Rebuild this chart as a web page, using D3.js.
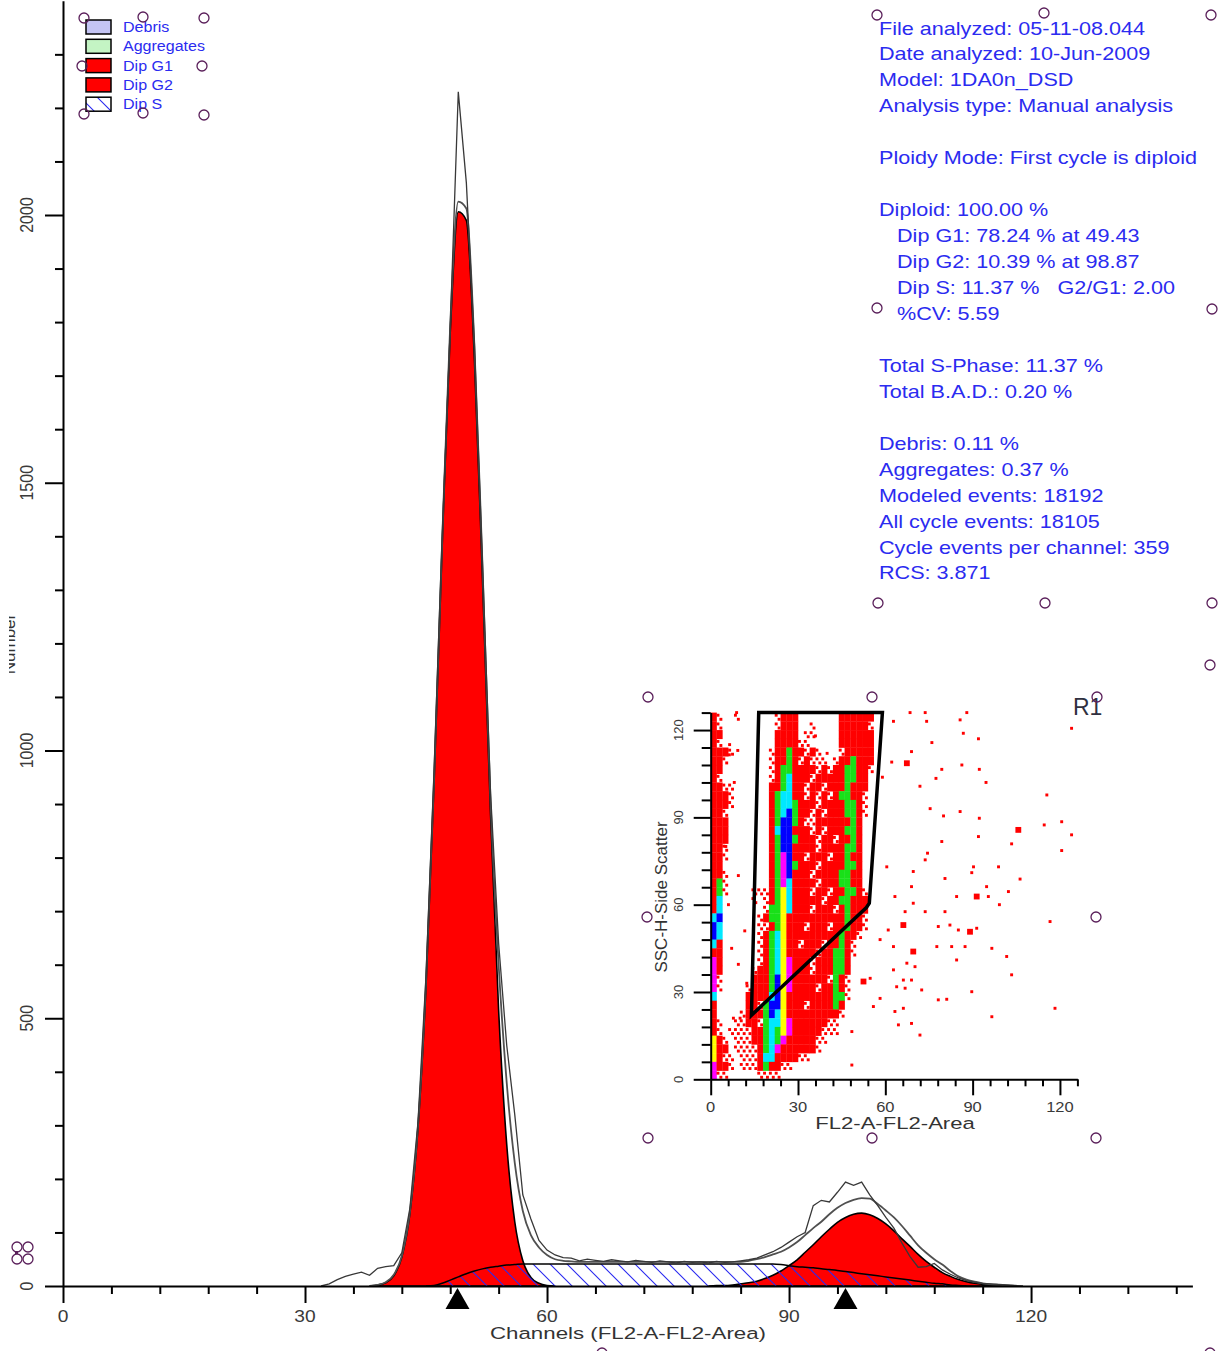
<!DOCTYPE html>
<html><head><meta charset="utf-8">
<script src="https://cdn.jsdelivr.net/npm/d3@7"></script>
<style>
html,body{margin:0;padding:0;background:#fff;}
svg{display:block;font-family:"Liberation Sans",Arial,Helvetica,sans-serif;}
text{white-space:pre;}
</style>
</head><body>
<svg id="chart" width="1219" height="1351"></svg>
<script>
// ---------- DNA histogram (counts per channel) ----------
const rawStart = 32;
const rawCounts = [0,4,12,18,22,26,20,33,36,38,
  62,145,305,580,965,1400,1790,2230,2060,1760,
  1350,920,640,450,320,170,125,85,67,58,
  53,52,47,50,48,46,49,47,45,48,
  46,44,47,45,43,46,44,45,43,46,
  44,45,47,49,52,58,64,72,82,92,
  100,150,160,157,175,194,188,194,170,150,
  128,108,80,55,35,36,42,30,22,15,
  10,7,5,4,3,2,1,0];

const fitStart = 38;
const fitCounts = [0,2,7,21,56,138,298,568,948,1390,
  1795,2025,2012,1755,1345,905,600,380,230,140,
  95,72,58,50,47,46,45,45,45,45,
  45,45,45,45,45,45,45,45,45,45,
  45,45,45,45,45,45,45,47,50,54,
  59,64,72,82,95,108,120,134,146,155,
  161,164,163,153,141,128,112,94,76,62,
  50,40,28,18,12,8,5,3,2,1,0];

const g1Start = 38;
const g1Counts = [0,2,6,19,54,135,294,560,940,1380,
  1780,2006,1990,1730,1320,880,515,265,120,47,
  16,5,1,0];

const g2Start = 80;
const g2Counts = [0,1,1,2,4,6,9,14,20,28,
  38,49,63,77,92,106,119,128,134,136,
  133,126,116,103,88,74,59,46,35,25,
  18,12,8,5,3,2,1,0];

const sStart = 45;
const sCounts = [0,1,5,11,17,23,28,32,35,37,
  39,40,41,41,41,41,41,41,41,41,
  41,41,41,41,41,41,41,41,41,41,
  41,41,41,41,41,41,41,41,41,41,
  41,41,41,41,40,38,36,35,34,32,
  31,29,27,25,23,21,19,17,15,13,
  11,9,7,5,4,2,1,0];

const peakMarkers = [48.9, 97.0];

const xTickValues = d3.range(0, 139, 6);
const xLabelValues = [0, 30, 60, 90, 120];
const yTickValues = d3.range(0, 2301, 100);
const yLabelValues = [0, 500, 1000, 1500, 2000];

const legendLabels = ["Debris", "Aggregates", "Dip G1", "Dip G2", "Dip S"];

const reportLines = [
  "File analyzed: 05-11-08.044",
  "Date analyzed: 10-Jun-2009",
  "Model: 1DA0n_DSD",
  "Analysis type: Manual analysis",
  "",
  "Ploidy Mode: First cycle is diploid",
  "",
  "Diploid: 100.00 %",
  "   Dip G1: 78.24 % at 49.43",
  "   Dip G2: 10.39 % at 98.87",
  "   Dip S: 11.37 %   G2/G1: 2.00",
  "   %CV: 5.59",
  "",
  "Total S-Phase: 11.37 %",
  "Total B.A.D.: 0.20 %",
  "",
  "Debris: 0.11 %",
  "Aggregates: 0.37 %",
  "Modeled events: 18192",
  "All cycle events: 18105",
  "Cycle events per channel: 359",
  "RCS: 3.871"
];

// ---------- SSC vs FL2 dot plot (density cells, 2 x 3 units each, top row first) ----------
const densityRows = [
  "rh..h......hrrr.......rrrrrr.",
  "rh.........hrrr..h....rrrrrh.",
  "rr.........rrrr.hh....rrrrrr.",
  "rh.........rrrrhh.....rrrrrr.",
  "rrrh......hrrgrrhrh...hrrrrr.",
  "rrh.......hrrgrhrhhh.hrrgrrr.",
  "rr........hrggrrrrhrhrrggrrh.",
  "rh........hrgcrrrhrrrrrggrr..",
  "rrhh......rrgcrrhrrhrrrgrrr..",
  "rrrh......rgccrrhrhrhrggrrh..",
  "rrrh......rgccgrrrhrrrrggrh..",
  "rrh.......rgcbgrrhrhrrrggrh..",
  "rrr.......rgbbgrhhrrrrrrgr...",
  "rrr.......rcbbrrrhrhrrrggr...",
  "rrr.......rgbbgrrrhrrhrrgr...",
  "rrh.......rgbbrrrrhrrrrggr...",
  "rrh.......rgmbrrhrrrhrrgrr...",
  "rr........rgmbgrrrhrrrrggr...",
  "rrh.......rgmbrrrhrrrrggrr...",
  "rgh.......rgmcrrrrhrrrggrr...",
  "rgh....hhhrgycrrrhrrhrrggrh..",
  "rc.....h.hrgycrrrrrhrrggrrr..",
  "rc.......hggycrrrhrrrhrgrrr..",
  "cb......hrggyrrrrrrrrrrgrrh..",
  "bc......hhrgyrrrhrrrhrrgrrh..",
  "bc......hrgcyrrrrrrrrrgrrh...",
  "cr......hrgcyrrhrrrhrrgrh....",
  "rr......hrgcyrrrrrhrrggrh....",
  "mr......hrgcymrrrhrrrggr.....",
  "mr.....hrrgcymrrrhrrrggr.....",
  "mh.....rrrgbymrrrrrrhgrh.....",
  "mh....hrrrgbymrrrrhrrgrh.....",
  "c.....rrrrcbyrrrrrrrrggh.....",
  "r.....rrhgbbyrrrhrrrrgr......",
  "r....hrrrgbcyrrrrrrrrrh......",
  "rh..hhrrhgccymrrrrrrhh.......",
  "rh.hhhhrrgcgymrrrrrhhh.......",
  "yrh.hhhrrgcgmrrrrrhh.........",
  "yrr.hhhhrgcmrrrrrrh..........",
  "yrhh.hhhrccrrrrhh............",
  "mrrh.hhhrgrrhh...............",
  "mhh.....hhhh................."
];

// isolated events outside the dense populations [FL2-A, SSC-H]
const sparseEvents = [
  [8.9,126],[68.5,126],[73.7,126],[88,126],[62.8,123],[74.2,123],[85.7,123.5],[124,120.6],
  [86.8,118.9],[92,117],[76,115.7],[69,112.6],[62.2,109],[86.3,108],[92.3,106.5],[79.4,106.5],
  [59,103.8],[77.4,103.4],[94.6,102],[71.9,100.7],[115.5,97.7],[75.4,93],[80,90.5],[85.7,92],
  [92.3,89.7],[114.6,87.4],[120.6,88.5],[92,83.4],[124,84],[103.4,80.9],[79.4,81.7],[74.5,77.7],
  [120.6,78.6],[60.5,73],[90.3,73],[98.9,73],[106.3,68.8],[69.6,71.4],[80.5,69],[89.7,71],
  [73.7,75.4],[94.8,66.2],[102.3,64.5],[84.5,62.8],[95.4,62.8],[99.2,60],[69,66.2],[63.3,62.8],
  [69.6,60.5],[73.7,57.6],[80.5,57.6],[66.8,57.6],[61,51.3],[78.2,52.5],[82.2,53],[85.1,51.3],
  [91.4,51.9],[116.6,54.2],[58.2,48],[62.8,45.6],[77.7,45.6],[82.8,45.6],[87.4,45.6],[96.6,45],
  [67.4,39.9],[70.2,38.7],[84.5,41],[101.7,42.2],[62.8,37.6],[54.8,34.7],[66.2,34.1],[69,34.1],
  [103.4,35.9],[63.9,31.8],[66.8,31.3],[72.5,30.7],[89.7,30.1],[58.2,27.8],[78.2,27.3],[81.1,27.5],
  [55.9,25],[66.2,24.4],[63.3,23.3],[118.3,24.4],[96.6,21.5],[64.5,18.7],[69,19.2],[48.5,16.4],
  [71.9,15.2],[48.5,4.9],[6.5,115],[9.3,113],[6.4,111.5],[8.1,102],[9.5,70],[9.5,39.5],
  [7.8,21],[10.1,21],[11.7,51],[13.5,20.7],[5.2,80],[6.1,60],[7.2,45],[12.4,33],[36,118],[40,112]
];
const largeEvents = [[67.4,108.6],[105.7,85.7],[91.4,62.8],[66.2,53],[89.1,50.7],[69.6,43.9],[52.5,33.6]];

const gateR1 = [[16.5,126],[59,126],[54.5,60.5],[53.5,59],[14,22]];

const inTickValues = d3.range(0, 127, 6);
const inLabelValues = [0, 30, 60, 90, 120];

// ---------- styles ----------
const BLUE_TEXT = "#2b2bf0";
const AXIS_TEXT = "#3a3a3a";
const cellColor = {r:"#ff0000", h:"#ff0000", g:"#19e019", c:"#00e8ff", b:"#0000ff", m:"#ff00ff", y:"#ffff00"};
const legendFill = ["#c4c4f4", "#c4f4c4", "#ff0000", "#ff0000", "url(#hatch)"];

const svg = d3.select("#chart");
svg.append("rect").attr("width", 1219).attr("height", 1351).attr("fill", "#fff");

const defs = svg.append("defs");
const pat = defs.append("pattern").attr("id", "hatch")
  .attr("patternUnits", "userSpaceOnUse").attr("width", 17).attr("height", 17);
pat.append("path").attr("d", "M0,0L17,17M-4,13L4,21M13,-4L21,4")
  .attr("stroke", "#2a2af0").attr("stroke-width", 1.1).attr("fill", "none");
defs.append("clipPath").attr("id", "ylabClip")
  .append("rect").attr("x", 9).attr("y", 0).attr("width", 40).attr("height", 1351);

// ---------- main histogram ----------
const x = d3.scaleLinear().domain([0, 140]).range([63, 1192.4]);
const y = d3.scaleLinear().domain([0, 2400]).range([1286, 0.8]);

const pts = (start, arr) => arr.map((v, i) => [start + i, v]);
const areaGen = d3.area().x(d => x(d[0])).y0(y(0)).y1(d => y(d[1])).curve(d3.curveMonotoneX);
const lineGen = d3.line().x(d => x(d[0])).y(d => y(d[1])).curve(d3.curveMonotoneX);
const rawGen = d3.line().x(d => x(d[0])).y(d => y(d[1]));

const plot = svg.append("g");
plot.append("path").attr("d", areaGen(pts(g1Start, g1Counts)))
  .attr("fill", "#ff0000").attr("stroke", "#000").attr("stroke-width", 1.6);
plot.append("path").attr("d", areaGen(pts(g2Start, g2Counts)))
  .attr("fill", "#ff0000").attr("stroke", "#000").attr("stroke-width", 1.6);
plot.append("path").attr("d", areaGen(pts(sStart, sCounts)))
  .attr("fill", "url(#hatch)").attr("stroke", "none");
plot.append("path").attr("d", lineGen(pts(sStart, sCounts)))
  .attr("fill", "none").attr("stroke", "#000").attr("stroke-width", 1.5);
plot.append("path").attr("d", lineGen(pts(fitStart, fitCounts)))
  .attr("fill", "none").attr("stroke", "#505050").attr("stroke-width", 1.8);
plot.append("path").attr("d", rawGen(pts(rawStart, rawCounts)))
  .attr("fill", "none").attr("stroke", "#383838").attr("stroke-width", 1.3);

// axes
const xAxis = svg.append("g").attr("transform", `translate(0,${y(0)})`)
  .call(d3.axisBottom(x).tickValues(xTickValues).tickSize(8).tickSizeOuter(0).tickFormat(""));
xAxis.selectAll(".tick line").attr("y2", d => d % 30 === 0 ? 17 : 8);
const yAxis = svg.append("g").attr("transform", `translate(${x(0)},0)`)
  .call(d3.axisLeft(y).tickValues(yTickValues).tickSize(8).tickSizeOuter(0).tickFormat(""));
yAxis.selectAll(".tick line").attr("x2", d => d % 500 === 0 ? -18 : -8);
svg.selectAll(".domain, .tick line").attr("stroke", "#000").attr("stroke-width", 2);

svg.append("g").selectAll("text").data(xLabelValues).join("text")
  .attr("transform", d => `translate(${x(d)},1322) scale(1.2,1)`)
  .attr("text-anchor", "middle").attr("font-size", 16).attr("fill", AXIS_TEXT).text(d => d);
svg.append("g").selectAll("text").data(yLabelValues).join("text")
  .attr("transform", d => `translate(33,${y(d)}) scale(1.15,1) rotate(-90)`)
  .attr("text-anchor", "middle").attr("font-size", 16).attr("fill", AXIS_TEXT).text(d => d);
svg.append("text").attr("transform", "translate(628,1339) scale(1.35,1)")
  .attr("text-anchor", "middle").attr("font-size", 16.5).attr("fill", "#333")
  .text("Channels (FL2-A-FL2-Area)");
svg.append("g").attr("clip-path", "url(#ylabClip)").append("text")
  .attr("transform", "translate(15,644) rotate(-90)")
  .attr("text-anchor", "middle").attr("font-size", 17).attr("fill", "#333").text("Number");

// peak position markers
svg.append("g").selectAll("path").data(peakMarkers).join("path")
  .attr("d", d => `M${x(d)},1288L${x(d) + 12},1309L${x(d) - 12},1309Z`).attr("fill", "#000");

// legend
const legend = svg.append("g");
legendLabels.forEach((lab, i) => {
  const yy = 20 + i * 19.3;
  legend.append("rect").attr("x", 86).attr("y", yy).attr("width", 25).attr("height", 14)
    .attr("fill", legendFill[i]).attr("stroke", "#000").attr("stroke-width", 1.5);
  legend.append("text").attr("transform", `translate(123,${yy + 12}) scale(1.07,1)`)
    .attr("font-size", 15).attr("fill", BLUE_TEXT).text(lab);
});

// report text
const report = svg.append("g");
reportLines.forEach((ln, i) => {
  if (!ln) return;
  const indent = ln.startsWith("   ");
  report.append("text")
    .attr("transform", `translate(${indent ? 897 : 879},${34.5 + i * 25.95}) scale(1.2,1)`)
    .attr("font-size", 18).attr("fill", BLUE_TEXT).text(ln.trim());
});

// ---------- inset dot plot ----------
const xi = d3.scaleLinear().domain([0, 126]).range([710.7, 1077.4]);
const yi = d3.scaleLinear().domain([0, 126]).range([1079.3, 712.6]);
const inset = svg.append("g");
const cells = [];
densityRows.forEach((row, r) => {
  [...row].forEach((ch, c) => { if (ch !== ".") cells.push({c, r, ch}); });
});
const cw = 2, chh = 3;
inset.append("g").selectAll("rect").data(cells.filter(d => d.ch !== "h")).join("rect")
  .attr("x", d => xi(d.c * cw)).attr("y", d => yi(126 - d.r * chh))
  .attr("width", xi(cw) - xi(0) + 0.3).attr("height", yi(0) - yi(chh) + 0.3)
  .attr("fill", d => cellColor[d.ch]);
// speckled (partially occupied) cells
const speck = [];
cells.filter(d => d.ch === "h").forEach(d => {
  speck.push([d.c * cw, 126 - d.r * chh - 0.4]);
  speck.push([d.c * cw + 1, 126 - d.r * chh - 1.8]);
});
inset.append("g").selectAll("rect").data(speck).join("rect")
  .attr("x", d => xi(d[0])).attr("y", d => yi(d[1]))
  .attr("width", xi(1) - xi(0)).attr("height", yi(0) - yi(1)).attr("fill", "#ff0000");
inset.append("g").selectAll("rect").data(sparseEvents).join("rect")
  .attr("x", d => xi(d[0] - 0.5)).attr("y", d => yi(d[1] + 0.5))
  .attr("width", xi(1) - xi(0)).attr("height", yi(0) - yi(1)).attr("fill", "#ff0000");
inset.append("g").selectAll("rect").data(largeEvents).join("rect")
  .attr("x", d => xi(d[0] - 1)).attr("y", d => yi(d[1] + 1))
  .attr("width", xi(2) - xi(0)).attr("height", yi(0) - yi(2)).attr("fill", "#ff0000");

inset.append("path")
  .attr("d", d3.line().x(d => xi(d[0])).y(d => yi(d[1]))(gateR1) + "Z")
  .attr("fill", "none").attr("stroke", "#000").attr("stroke-width", 3.5).attr("stroke-linejoin", "miter");

const xiAxis = inset.append("g").attr("transform", `translate(0,${yi(0)})`)
  .call(d3.axisBottom(xi).tickValues(inTickValues).tickSize(7).tickSizeOuter(0).tickFormat(""));
xiAxis.selectAll(".tick line").attr("y2", d => d % 30 === 0 ? 16 : 7);
const yiAxis = inset.append("g").attr("transform", `translate(${xi(0)},0)`)
  .call(d3.axisLeft(yi).tickValues(inTickValues).tickSize(9).tickSizeOuter(0).tickFormat(""));
yiAxis.selectAll(".tick line").attr("x2", d => d % 30 === 0 ? -17 : -9);
inset.selectAll(".domain, .tick line").attr("stroke", "#000").attr("stroke-width", 2);

inset.append("g").selectAll("text").data(inLabelValues).join("text")
  .attr("transform", d => `translate(${xi(d)},1112) scale(1.1,1)`)
  .attr("text-anchor", "middle").attr("font-size", 15).attr("fill", AXIS_TEXT).text(d => d);
inset.append("g").selectAll("text").data(inLabelValues).join("text")
  .attr("transform", d => `translate(683,${yi(d)}) rotate(-90)`)
  .attr("text-anchor", "middle").attr("font-size", 13).attr("fill", AXIS_TEXT).text(d => d);
inset.append("text").attr("transform", "translate(895,1129) scale(1.3,1)")
  .attr("text-anchor", "middle").attr("font-size", 17).attr("fill", "#333").text("FL2-A-FL2-Area");
inset.append("text").attr("transform", "translate(667,897) rotate(-90)")
  .attr("text-anchor", "middle").attr("font-size", 17).attr("fill", "#333").text("SSC-H-Side Scatter");
inset.append("text").attr("transform", "translate(1073,715)")
  .attr("font-size", 23).attr("fill", "#303040").text("R1");

// ---------- selection handles ----------
const handles = [
  [84,18],[143,17],[204,18],[82,66],[202,66],[84,114],[143,113],[204,115],
  [877,15],[1044,13],[1211,15],[877,308],[1212,309],[878,603],[1045,603],[1212,603],
  [648,697],[872,697],[1097,697],[647,917],[1096,917],[648,1138],[872,1138],[1096,1138],
  [1210,665],[602,1353],[1210,1353],
  [17,1247],[28,1247],[17,1259],[28,1259]
];
svg.append("g").selectAll("circle").data(handles).join("circle")
  .attr("cx", d => d[0]).attr("cy", d => d[1]).attr("r", 5)
  .attr("fill", "none").attr("stroke", "#5a1f5a").attr("stroke-width", 1.3);
svg.append("rect").attr("x", 15).attr("y", 1251).attr("width", 3).attr("height", 3).attr("fill", "#5a1f5a");
</script>
</body></html>
